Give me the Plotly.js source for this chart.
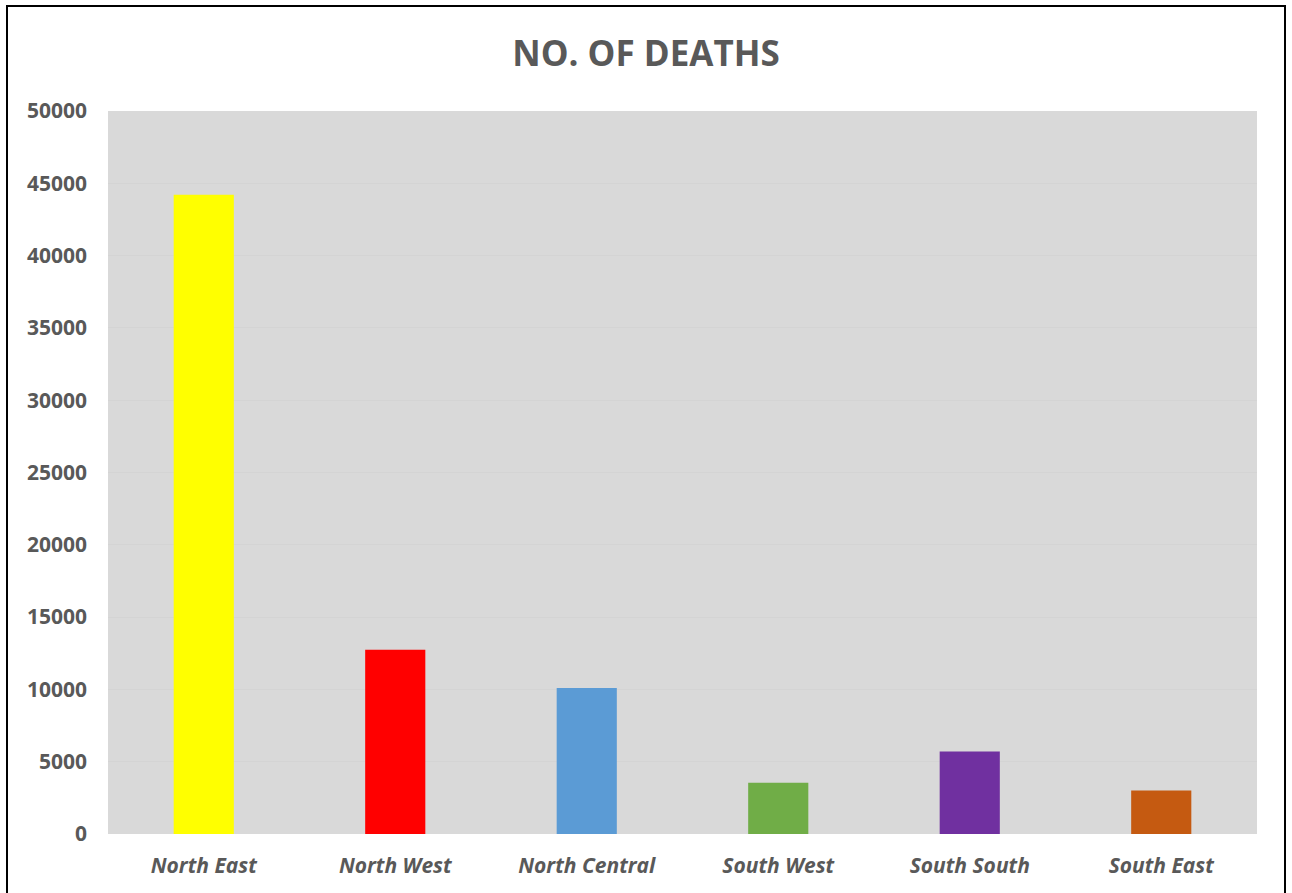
<!DOCTYPE html>
<html>
<head>
<meta charset="utf-8">
<script src="https://cdn.plot.ly/plotly-3.0.1.min.js"></script>
<style>
  html, body { margin: 0; padding: 0; background: #fff; }
  #chart { width: 1292px; height: 893px; position: absolute; left: 0; top: 0; }
  #frame { position: absolute; left: 6px; top: 5px; width: 1276px; height: 900px; border: 2px solid #000; pointer-events: none; }
</style>
</head>
<body>
<div id="chart"></div>
<div id="frame"></div>
<script>
const regions = ["North East", "North West", "North Central", "South West", "South South", "South East"];
const deaths = [44200, 12750, 10100, 3550, 5700, 3000];
const barColors = ["#FFFF00", "#FF0000", "#5B9BD5", "#70AD47", "#7030A0", "#C55A11"];
const chartTitle = "NO. OF DEATHS";

const trace = {
  type: "bar",
  x: regions,
  y: deaths,
  marker: { color: barColors },
  hoverinfo: "x+y"
};

const layout = {
  width: 1292,
  height: 893,
  margin: { l: 108, r: 35, t: 111, b: 59 },
  paper_bgcolor: "#ffffff",
  plot_bgcolor: "#D9D9D9",
  bargap: 0.686,
  showlegend: false,
  title: {
    text: chartTitle,
    font: { family: "Open Sans, sans-serif", size: 35, color: "#595959", weight: 700 },
    x: 0.5, xanchor: "center",
    y: 1 - 54 / 893, yanchor: "middle", yref: "container"
  },
  xaxis: {
    type: "category",
    showgrid: false,
    zeroline: false,
    showline: false,
    ticks: "",
    ticklabelstandoff: 17,
    tickfont: { family: "Open Sans, sans-serif", size: 21, color: "#595959", weight: 700, style: "italic" }
  },
  yaxis: {
    range: [0, 50000],
    dtick: 5000,
    tick0: 0,
    showgrid: true,
    gridcolor: "#D4D4D4",
    gridwidth: 1,
    zeroline: false,
    showline: false,
    ticks: "",
    ticklabelstandoff: 20,
    tickformat: "d",
    tickfont: { family: "Open Sans, sans-serif", size: 21, color: "#595959", weight: 700 }
  }
};

Plotly.newPlot("chart", [trace], layout, { displayModeBar: false, staticPlot: true });
</script>
</body>
</html>
